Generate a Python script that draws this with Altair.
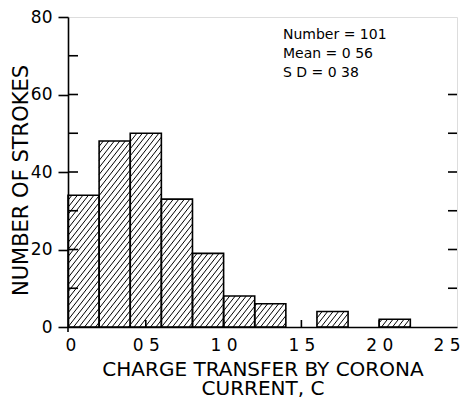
import altair as alt
import pandas as pd
import numpy as np

# ---- data ----
bin_starts = [0.0, 0.2, 0.4, 0.6, 0.8, 1.0, 1.2, 1.4, 1.6, 1.8, 2.0]
counts = [34, 48, 50, 33, 19, 8, 6, 0, 4, 0, 2]
bin_width = 0.2
x_tick_values = [0, 0.5, 1.0, 1.5, 2.0, 2.5]
y_tick_values = [0, 10, 20, 30, 40, 50, 60, 70, 80]
left_inner_ticks = [10, 20, 30, 40, 50, 60, 70]
right_ticks = [10, 20, 30, 40, 50, 60]
bottom_inner_ticks = [0.5, 1.0, 1.5, 2.0]
stats_lines = ["Number = 101", "Mean = 0 56", "S D = 0 38"]
x_title = ["CHARGE TRANSFER BY CORONA", "CURRENT, C"]
y_title = "NUMBER OF STROKES"

W, H = 389, 310
FONT = "DejaVu Sans"

bars = pd.DataFrame({
    "x": bin_starts,
    "x2": [b + bin_width for b in bin_starts],
    "n": counts,
})
bars = bars[bars["n"] > 0]

# hatch lines (derived from the bar rectangles)
kx, ky = W / 2.5, H / 80
cot = 1 / np.tan(np.deg2rad(52))
step = 5.5
rows = []
for _, r in bars.iterrows():
    X0, X1, Ht = r["x"] * kx, r["x2"] * kx, r["n"] * ky
    k0 = int(np.floor((X0 - Ht * cot) / step))
    k1 = int(np.ceil(X1 / step))
    for k in range(k0, k1 + 1):
        s = k * step
        a = max(0.0, (X0 - s) / cot)
        b = min(Ht, (X1 - s) / cot)
        if b - a > 0.6:
            rows.append({"hx": (s + a * cot) / kx, "hy": a / ky,
                         "hx2": (s + b * cot) / kx, "hy2": b / ky})
hatch = pd.DataFrame(rows)

xs = alt.Scale(domain=[0, 2.5], nice=False, zero=False)
ys = alt.Scale(domain=[0, 80], nice=False)

bar_layer = alt.Chart(bars).mark_rect(
    fillOpacity=0, stroke="black", strokeWidth=1.6
).encode(
    x=alt.X("x:Q", scale=xs, axis=alt.Axis(
        values=x_tick_values, ticks=False, grid=False,
        labelExpr="datum.value == 0 ? '0' : replace(format(datum.value, '.1f'), '.', ' ')",
        labelBaseline="alphabetic", labelPadding=23, labelFontSize=17,
        labelFlush=True, labelFlushOffset=3,
        title=x_title, titleFontSize=20, titleFontWeight="normal",
        titleBaseline="alphabetic", titleY=48, titleLineHeight=19.5,
        domainColor="black", domainWidth=1.6, labelColor="black", titleColor="black",
        labelFont=FONT, titleFont=FONT,
    )),
    x2="x2:Q",
    y=alt.Y("n:Q", scale=ys, axis=alt.Axis(
        values=y_tick_values, tickSize=10, tickWidth=1.6, tickColor="black",
        grid=False,
        labelExpr="datum.value % 20 == 0 ? datum.label : ''",
        labelPadding=6, labelFontSize=17, labelFlush=False,
        title=y_title, titleFontSize=21, titleFontWeight="normal",
        titleX=-47, titleY=163, titleBaseline="middle", titleAngle=-90,
        domainColor="black", domainWidth=1.6, labelColor="black", titleColor="black",
        labelFont=FONT, titleFont=FONT,
    )),
    y2=alt.value(H),
)

hatch_layer = alt.Chart(hatch).mark_rule(color="black", strokeWidth=1).encode(
    x=alt.X("hx:Q", scale=xs),
    x2="hx2:Q",
    y=alt.Y("hy:Q", scale=ys),
    y2="hy2:Q",
)

left_ticks = alt.Chart(pd.DataFrame({"lt": left_inner_ticks})).mark_rule(
    color="black", strokeWidth=1.6).encode(
    y=alt.Y("lt:Q", scale=ys), x=alt.value(0), x2=alt.value(10))

right_tick_layer = alt.Chart(pd.DataFrame({"rt": right_ticks})).mark_rule(
    color="black", strokeWidth=1.6).encode(
    y=alt.Y("rt:Q", scale=ys), x=alt.value(W - 9), x2=alt.value(W))

bottom_ticks = alt.Chart(pd.DataFrame({"bt": bottom_inner_ticks})).mark_rule(
    color="black", strokeWidth=1.6).encode(
    x=alt.X("bt:Q", scale=xs), y=alt.value(H - 7), y2=alt.value(H))

zero_tick = alt.Chart(pd.DataFrame({"zt": [0]})).mark_rule(
    color="black", strokeWidth=1.6).encode(
    x=alt.X("zt:Q", scale=xs), y=alt.value(H), y2=alt.value(H + 5))

stats = pd.DataFrame({"txt": ["\n".join(stats_lines)]})
stats_layer = alt.Chart(stats).mark_text(
    align="left", baseline="alphabetic", font=FONT, fontSize=14, color="black",
    lineBreak="\n", lineHeight=19,
).encode(
    text="txt:N",
    x=alt.value(215),
    y=alt.value(22),
)

chart = alt.layer(
    bar_layer, hatch_layer, left_ticks, right_tick_layer, bottom_ticks,
    zero_tick, stats_layer
).properties(
    width=W, height=H,
    autosize=alt.AutoSizeParams(type="none"),
    padding={"left": 60, "top": 9, "right": 4, "bottom": 72},
).configure_view(
    stroke="black", strokeWidth=1.6
).configure(background="white")

chart.save("out.html", embed_options={"renderer": "svg", "actions": False})
